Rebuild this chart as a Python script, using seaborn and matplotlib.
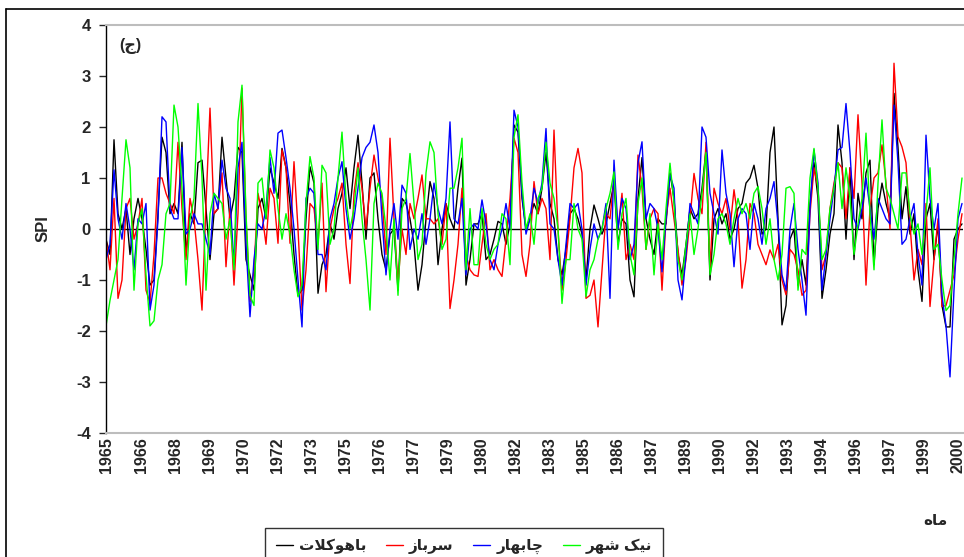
import matplotlib
matplotlib.use("Agg")
import matplotlib.pyplot as plt
import numpy as np
import pandas as pd
import seaborn as sns
from matplotlib.lines import Line2D

# station names (Persian, written in shaped presentation forms, visual order)
name_bahukalat = "\uFE95\uFEFC\uFB90\uFEEE\uFEEB\uFE8E\uFE91"   # باهوکلات
name_sarbaz = "\uFEAF\uFE8E\uFE91\uFEAE\uFEB3"                  # سرباز
name_chabahar = "\uFEAD\uFE8E\uFEEC\uFE91\uFE8E\uFB7C"          # چابهار
name_nikshahr = "\uFEAE\uFEEC\uFEB7 \uFB8F\uFBFF\uFEE7"         # نیک شهر
label_month = "\uFEE9\uFE8E\uFEE3"                              # ماه
panel_label = "(\u062C)"

year_labels = ["1965", "1966", "1968", "1969", "1970", "1972", "1973", "1975",
               "1976", "1977", "1979", "1980", "1982", "1983", "1985", "1986",
               "1987", "1989", "1990", "1992", "1993", "1994", "1996", "1997",
               "1999", "2000"]

# SPI values (roughly two-monthly steps 1965-2000)
spi_bahukalat = [
    -0.2, -0.5, 1.75, 0.3, 0.0, 0.4, -0.5, 0.2, 0.6, 0.2,
    -0.4, -1.1, -1.0, 0.3, 1.8, 1.5, 0.3, 0.5, 0.3, 1.7,
    -0.5, 0.3, 0.1, 1.3, 1.35, 0.4, -0.6, 0.3, 0.4, 1.8,
    1.0, 0.2, 0.6, 1.6, 1.5, -0.6, -0.9, -1.2, 0.4, 0.6,
    0.2, 1.2, 0.9, 0.6, 1.58, 1.2, 0.5, -0.5, -1.3, -1.2,
    0.2, 1.22, 0.9, -1.26, -0.7, -0.5, 0.1, -0.2, 0.4, 0.7,
    1.2, 0.4, 1.2, 1.84, 0.9, -0.2, 1.0, 1.1, 0.2, -0.5,
    -0.8, -0.1, 0.0, -1.2, 0.6, 0.5, 0.2, -0.3, -1.2, -0.7,
    0.2, 0.93, 0.6, -0.7, 0.0, 0.5, 0.2, 0.0, 0.8, 1.39,
    -1.1, -0.6, 0.1, 0.1, 0.3, -0.6, -0.5, -0.2, 0.15, 0.1,
    -0.3, 0.1, 2.04, 1.9, 0.6, 0.0, 0.2, 0.5, 0.3, 0.8,
    1.5, 0.5, 0.2, -0.6, -0.9, -0.4, 0.3, 0.4, 0.2, -0.1,
    -1.0, 0.0, 0.47, 0.2, -0.1, 0.1, 0.5, 0.9, -0.3, 0.2,
    0.1, -1.0, -1.33, 0.6, 1.4, 0.2, -0.2, -0.5, 0.2, 0.1,
    0.1, 1.1, 0.6, -0.5, -0.9, -0.3, 0.4, 0.2, 0.3, 0.8,
    1.55, -1.0, 0.2, 0.4, 0.1, 0.3, -0.2, 0.0, 0.4, 0.5,
    0.9, 1.0, 1.25, 0.8, -0.1, 0.0, 1.5, 2.0, 0.2, -1.88,
    -1.5, -0.2, 0.0, -1.1, -0.6, -1.1, 0.5, 1.3, 0.6, -1.36,
    -0.8, -0.1, 0.3, 2.04, 1.3, -0.2, 1.2, -0.6, 0.7, 0.2,
    1.1, 1.35, -0.7, 0.4, 0.9, 0.5, 0.2, 2.66, 1.6, 0.2,
    0.83, -0.1, 0.3, -0.8, -1.42, 0.2, 0.5, -0.6, 0.1, -1.5,
    -1.92, -1.92, -0.2, 0.0, 0.1,
]
spi_sarbaz = [
    -0.2, -0.8, 0.6, -1.36, -1.0, 0.4, 0.6, -0.2, 0.1, 0.6,
    -1.2, -1.45, -0.5, 1.0, 1.0, 0.7, 0.5, 0.3, 1.7, 0.4,
    -0.6, 0.6, 0.2, -0.6, -1.59, 0.5, 2.37, 0.3, 0.4, 1.1,
    -0.74, 0.4, -1.1, 0.3, 2.76, 0.2, -1.42, -0.8, 0.7, 0.3,
    -0.3, 0.8, 0.6, -0.28, 1.55, 1.2, -0.28, 1.32, 0.0, -1.59,
    -0.8, 0.5, 0.4, -0.3, 0.9, -1.23, 0.0, 0.4, 0.6, 0.9,
    -0.3, -1.07, 0.7, 1.3, 0.8, 0.0, 0.8, 1.45, 1.0, 0.6,
    -0.5, 1.78, 0.2, -1.1, 0.0, -0.5, 0.5, 0.2, 0.6, 1.06,
    0.2, 0.2, 0.1, 0.2, -0.3, 0.5, -1.56, -1.0, -0.3, 0.8,
    -0.5, -0.8, -0.9, -0.93, -0.3, 0.3, -0.8, -0.6, -0.8, -0.93,
    -0.2, 0.6, 1.78, 1.5, -0.5, -0.93, -0.3, 0.93, 0.3, 0.6,
    0.4, -0.6, 1.94, 0.0, -1.2, -0.6, 0.2, 1.2, 1.58, 1.1,
    -1.36, -1.3, -1.0, -1.92, -0.8, 0.3, 0.2, 1.0, 0.0, 0.7,
    -0.6, -0.3, -0.6, 1.45, 0.8, -0.4, 0.2, 0.4, 0.3, -1.2,
    0.2, 0.8, 0.2, -0.4, -1.1, -0.6, 0.2, 1.09, 0.6, 0.3,
    1.7, -0.8, 0.8, 0.5, 0.3, 0.6, 0.0, 0.77, 0.2, -1.16,
    -0.6, 0.5, 0.3, -0.3, -0.5, -0.7, -0.41, -0.6, -0.3, -1.0,
    -1.29, -0.4, -0.5, -0.8, -1.3, -1.2, 0.3, 1.2, 0.8, -0.8,
    -0.5, 0.4, 0.9, 1.3, 1.2, 0.2, 1.2, 0.6, 2.24, 0.9,
    -1.1, 0.4, 1.0, 1.1, 1.65, 0.9, 0.0, 3.25, 1.81, 1.61,
    1.3, 0.1, -1.0, -0.4, -0.7, 0.5, -1.52, -0.6, 0.2, -1.52,
    -1.5, -1.2, -0.9, -0.2, 0.3,
]
spi_chabahar = [
    -0.6, -0.3, 1.16, 0.2, -0.2, 0.5, 0.0, -0.8, 0.2, 0.1,
    0.5, -1.59, -1.1, 0.2, 2.2, 2.1, 0.4, 0.2, 0.2, 1.6,
    -0.1, 0.0, 0.3, 0.1, 0.1, -0.2, -0.5, 0.7, 0.4, 1.35,
    0.8, 0.6, -0.7, 1.2, 1.7, -0.3, -1.72, -0.6, 0.1, 0.0,
    0.4, 1.4, 0.7, 1.88, 1.94, 1.4, 0.8, 0.0, -1.0, -1.92,
    0.6, 0.8, 0.7, -0.5, -0.5, -0.8, 0.2, 0.5, 1.0, 1.32,
    0.4, -0.2, 0.2, 0.8, 1.4, 1.6, 1.7, 2.04, 1.5, 0.2,
    -0.9, 0.0, 0.5, -0.2, 0.86, 0.7, -0.4, 0.0, -0.2, 0.3,
    -0.3, 0.2, 0.9, 0.4, 0.1, 0.6, 2.1, 0.2, 0.1, 0.6,
    -0.9, 0.0, 0.1, 0.0, 0.57, 0.1, -0.6, -0.8, -0.3, 0.0,
    0.5, 0.0, 2.33, 2.0, 0.7, -0.1, 0.2, 0.8, 0.5, 0.9,
    1.97, 0.1, 0.0, -0.6, -1.1, -0.3, 0.5, 0.4, 0.5, 0.0,
    -1.1, -0.4, 0.1, -0.2, 0.0, 0.5, -1.36, 1.35, 0.0, 0.6,
    0.4, -0.6, -0.3, 1.3, 1.71, 0.2, 0.5, 0.4, 0.0, -0.84,
    0.2, 1.06, 0.8, -1.0, -1.39, -0.5, 0.5, 0.3, 0.1, 2.0,
    1.8, 0.7, 0.3, -0.1, 1.55, 0.7, 0.3, -0.74, 0.2, 0.4,
    0.3, -0.4, 0.5, 0.2, -0.3, 0.4, 0.6, 0.93, 0.1, -0.9,
    -1.2, 0.0, 0.5, -0.4, -1.0, -1.69, 0.4, 1.55, 0.9, -1.2,
    -0.5, 0.2, 0.8, 1.55, 1.6, 2.46, 1.5, 0.2, 0.0, 0.4,
    1.0, 0.4, -0.2, 0.6, 0.4, 0.2, 0.1, 2.43, 1.3, -0.3,
    -0.2, 0.2, 0.5, -0.5, -1.1, 1.84, 0.6, 0.0, 0.5, -1.3,
    -1.9, -2.9, -1.2, 0.2, 0.5,
]
spi_nikshahr = [
    -1.9, -1.4, -1.0, -0.6, 0.6, 1.75, 1.2, -1.2, 0.1, 0.4,
    -0.9, -1.9, -1.8, -1.0, -0.7, 0.3, 0.5, 2.43, 2.0, 0.8,
    -1.1, 0.2, 0.6, 2.46, 1.0, -1.2, 0.3, 0.7, 0.6, 0.5,
    -0.2, 0.2, -0.8, 2.1, 2.82, 0.3, -1.3, -1.5, 0.9, 1.0,
    0.2, 1.55, 1.2, 0.4, -0.2, 0.3, -0.1, -0.8, -1.33, -1.1,
    0.5, 1.42, 1.0, -0.4, 1.25, 1.1, -0.3, 0.0, 1.0, 1.9,
    0.6, 0.0, 0.4, 1.2, 0.2, -0.6, -1.59, 0.5, 0.9, 0.7,
    0.0, -1.0, 0.2, -1.3, 0.4, 0.6, 1.48, 0.5, -0.6, -0.3,
    1.1, 1.71, 1.5, 0.3, -0.4, -0.2, 0.8, 0.8, 1.2, 1.78,
    -0.8, 0.4, -0.7, -0.7, 0.4, -0.3, -0.6, -0.4, -0.3, 0.3,
    0.2, -0.7, 1.8, 2.24, 0.9, 0.0, 0.3, -0.3, 0.6, 0.8,
    1.7, 0.9, 0.6, 0.0, -1.46, -0.6, -0.6, 0.5, 0.0, -0.2,
    -1.33, -0.8, -0.6, -0.2, 0.0, 0.4, 0.7, 1.12, -0.4, 0.3,
    0.6, -0.5, -0.9, 0.5, 1.0, -0.4, 0.3, -0.9, 0.1, -0.6,
    0.4, 1.29, 0.5, -0.6, -1.0, -0.3, 0.3, -0.5, 0.0, 0.7,
    1.5, -0.9, -0.5, 0.2, 0.3, 0.1, -0.3, 0.2, 0.6, 0.3,
    0.5, 0.2, 0.7, 0.83, 0.4, -0.3, 0.2, -0.6, -1.0, -0.5,
    0.8, 0.83, 0.7, -1.2, -0.4, -0.5, 1.0, 1.58, 0.8, -0.6,
    -0.4, 0.4, 0.8, 1.3, 0.4, 1.2, 0.6, -0.5, 0.1, 0.6,
    1.88, 0.3, -0.8, 0.9, 2.14, 0.8, 0.6, 0.3, 0.0, 1.1,
    1.1, 0.3, -0.1, 0.1, -0.5, 0.3, 1.2, -0.4, -0.3, -1.0,
    -1.6, -1.5, -0.6, 0.3, 1.0,
]

series = [
    (name_bahukalat, spi_bahukalat, "#000000"),
    (name_sarbaz, spi_sarbaz, "#ff0000"),
    (name_chabahar, spi_chabahar, "#0000ff"),
    (name_nikshahr, spi_nikshahr, "#00ff00"),
]

sns.set_style("white")
plt.rcParams["font.family"] = ["Liberation Sans", "DejaVu Sans"]
plt.rcParams["font.weight"] = "bold"

W, H = 964, 557
fig = plt.figure(figsize=(W / 100, H / 100), dpi=100)
ax = fig.add_axes([106 / W, 1 - 433 / H, (963 - 106) / W, (433 - 25) / H])

for name, vals, col in series:
    df = pd.DataFrame({"t": np.arange(len(vals)), "spi": vals})
    sns.lineplot(data=df, x="t", y="spi", color=col, lw=1.0, label=name, ax=ax)

n = len(spi_bahukalat)
ax.axhline(0, color="black", lw=1.0, zorder=1)
ax.set_xlim(0, n - 0.75)
ax.set_ylim(-4, 4)
ax.set_yticks(range(-4, 5))
ax.set_yticklabels([str(v) for v in range(-4, 5)], fontsize=12, fontweight="bold")
ax.set_xticks(np.linspace(0.25, n - 2.0, len(year_labels)))
ax.set_xticklabels(year_labels, rotation=90, fontsize=11.5, fontweight="bold")
ax.tick_params(axis="x", length=0, pad=3)
ax.tick_params(axis="y", length=5, width=1, direction="out", pad=6, left=True)
ax.set_xlabel("")
ax.set_ylabel("SPI", fontsize=12, fontweight="bold", labelpad=18)

for s in ["top", "bottom", "right"]:
    ax.spines[s].set_color("#bdbdbd")
    ax.spines[s].set_linewidth(1.5)
ax.spines["right"].set_visible(False)
ax.spines["left"].set_color("black")
ax.spines["left"].set_linewidth(1.0)

ax.text(0.016, 0.968, panel_label, transform=ax.transAxes, fontsize=11.5,
        fontweight="bold", va="top", ha="left")

ax.get_legend().remove()

# outer chart border
fig.add_artist(Line2D([6 / W, 1], [1 - 9 / H, 1 - 9 / H], color="black", lw=1.2))
fig.add_artist(Line2D([6 / W, 6 / W], [0, 1 - 9 / H], color="black", lw=1.2))

fig.text(935 / W, 1 - 521 / H, label_month, fontsize=11, fontweight="bold",
         ha="center", va="center")

handles, labels = ax.get_legend_handles_labels()
leg = fig.legend(handles, labels, loc="upper left",
                 bbox_to_anchor=(265 / W, 1 - 528 / H), ncol=4,
                 borderaxespad=0, frameon=True, fancybox=False,
                 edgecolor="black", handlelength=1.1, handletextpad=0.4,
                 columnspacing=1.3, borderpad=0.7,
                 prop={"size": 11, "weight": "bold"})
leg.get_frame().set_linewidth(1.0)

fig.savefig("out.png", dpi=100)
